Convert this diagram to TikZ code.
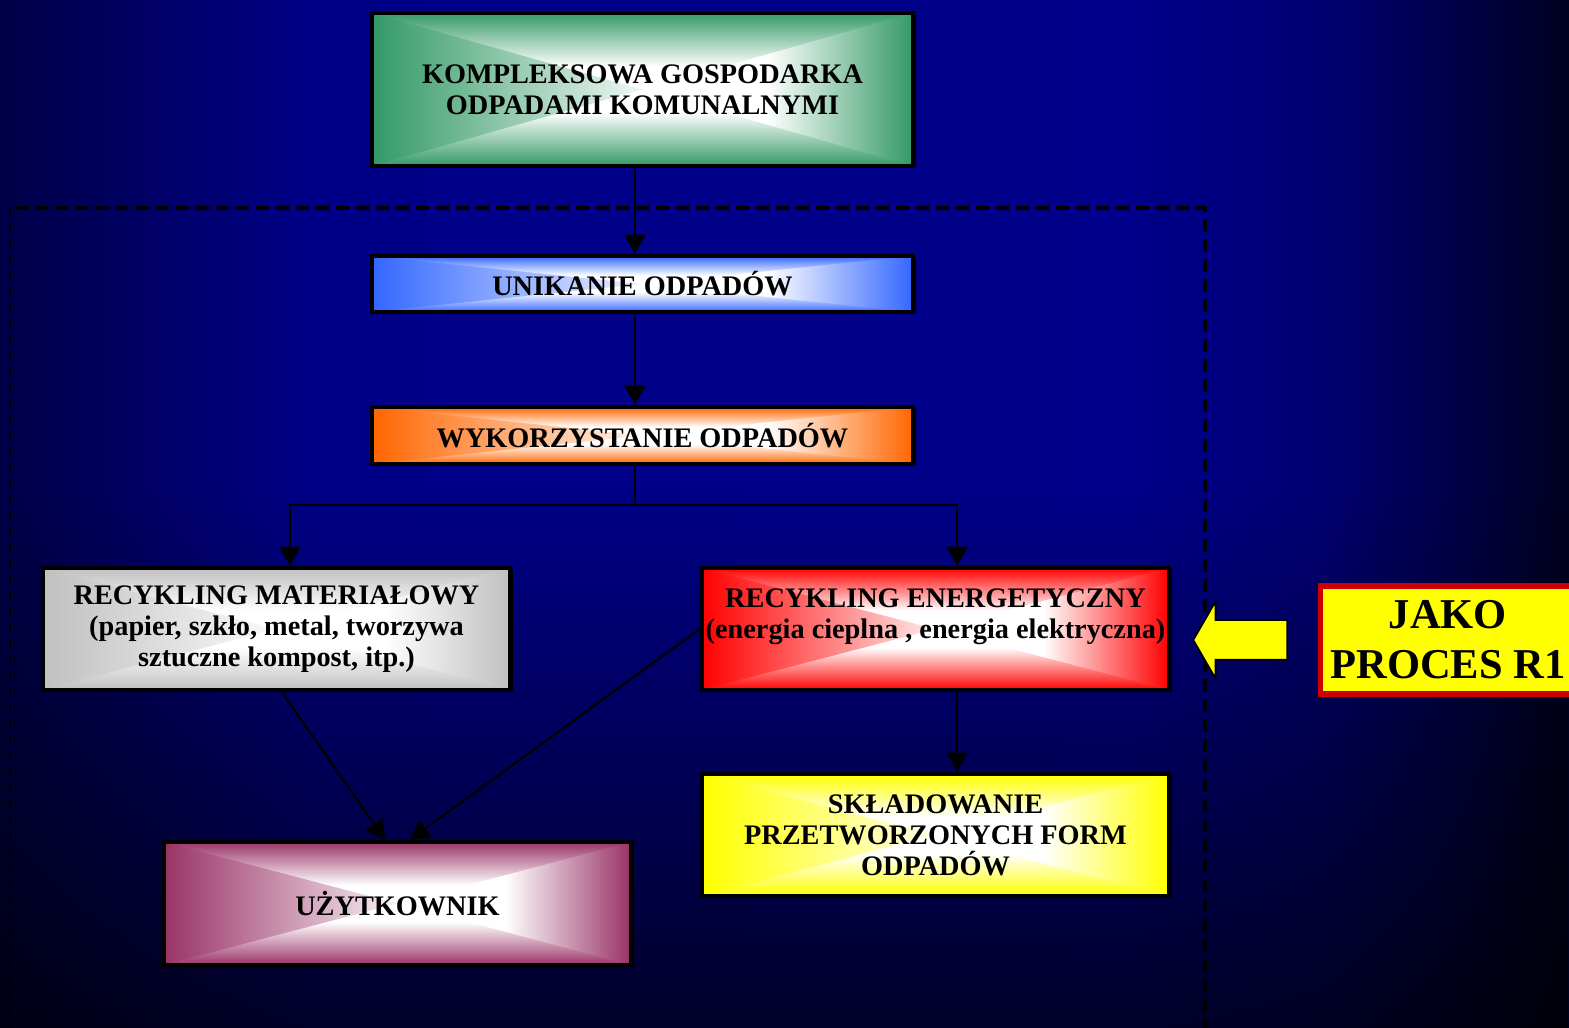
\documentclass[tikz,border=0pt]{standalone}
\usepackage{fontspec}
\setmainfont{Liberation Serif}
\usetikzlibrary{arrows.meta,shapes.arrows,shadows,fadings,positioning}
\definecolor{box_green}{RGB}{51,153,102}
\definecolor{box_blue}{RGB}{51,102,255}
\definecolor{box_orange}{RGB}{255,102,0}
\definecolor{box_gray}{RGB}{192,192,192}
\definecolor{box_red}{RGB}{255,0,0}
\definecolor{box_yellow}{RGB}{255,255,0}
\definecolor{box_mauve}{RGB}{153,51,102}
\definecolor{frame_red}{RGB}{204,0,0}
% background: blue band darkening to the sides
\pgfdeclarehorizontalshading{bgband}{100bp}{%
  rgb(0bp)=(0,0,0.28); rgb(25bp)=(0,0,0.28); rgb(35bp)=(0,0,0.53); rgb(61bp)=(0,0,0.54);
  rgb(67bp)=(0,0,0.45); rgb(71bp)=(0,0,0.30); rgb(75bp)=(0,0,0.12); rgb(100bp)=(0,0,0.12)}
\tikzfading[name=fade down, top color=transparent!100, bottom color=transparent!30]
% edge-to-centre glow of the boxes
\newcommand\glowshadings[1]{%
  \pgfdeclarehorizontalshading{glowh-#1}{100bp}{%
    color(0bp)=(#1); color(25bp)=(#1); color(52bp)=(white); color(100bp)=(white)}%
  \pgfdeclarehorizontalshading{glowv-#1}{100bp}{%
    color(0bp)=(#1); color(25bp)=(#1); color(60bp)=(white); color(100bp)=(white)}}
\glowshadings{box_green}
\glowshadings{box_blue}
\glowshadings{box_orange}
\glowshadings{box_gray}
\glowshadings{box_red}
\glowshadings{box_yellow}
\glowshadings{box_mauve}

\begin{document}
\begin{tikzpicture}[font=\fontsize{8.05}{8.8}\selectfont\bfseries,
    box/.style={draw=black, fill=white, line width=1.3pt, align=center, inner sep=0pt,
                drop shadow={shadow xshift=0.025cm, shadow yshift=-0.025cm, fill=black, opacity=1}},
    wide/.style={box, minimum width=5.41cm},
    half/.style={box, minimum width=4.67cm, minimum height=1.22cm},
    glow/.style={path picture={
      \shade[shading=glowh-#1, shading angle=0]
        (path picture bounding box.north west) rectangle (path picture bounding box.south);
      \shade[shading=glowh-#1, shading angle=180]
        (path picture bounding box.north) rectangle (path picture bounding box.south east);
      \shade[shading=glowv-#1, shading angle=-90]
        (path picture bounding box.north west) -- (path picture bounding box.north east)
        -- (path picture bounding box.center) -- cycle;
      \shade[shading=glowv-#1, shading angle=90]
        (path picture bounding box.south west) -- (path picture bounding box.south east)
        -- (path picture bounding box.center) -- cycle;}},
    link/.style={-{Triangle[width=0.21cm,length=0.19cm]}, line width=0.6pt}]
  \useasboundingbox (0,0) rectangle (15.69,10.28);
  % background
  \shade[shading=bgband] (0,0) rectangle (15.69,10.28);
  \fill[black, path fading=fade down] (0,0) rectangle (15.69,5.4);
  \draw[line width=1.1pt, dash pattern=on 0.13cm off 0.07cm]
    (0.16,8.20) -- (12.05,8.20) -- (12.05,0);
  \draw[line width=0.35pt, dash pattern=on 0.08cm off 0.08cm] (0.10,8.20) -- (0.10,0);

  % boxes
  \node[wide, minimum height=1.53cm, glow=box_green] (kgo) at (6.425,9.385)
    {KOMPLEKSOWA GOSPODARKA\\ODPADAMI KOMUNALNYMI};
  \node[wide, minimum height=0.56cm, glow=box_blue] (uni) at (6.425,7.44)
    {UNIKANIE ODPADÓW};
  \node[wide, minimum height=0.57cm, glow=box_orange] (wyk) at (6.425,5.925)
    {WYKORZYSTANIE ODPADÓW};
  \node[half, glow=box_gray] (mat) at (2.765,3.99)
    {RECYKLING MATERIAŁOWY\\(papier, szkło, metal, tworzywa\\sztuczne kompost, itp.)};
  \node[half, glow=box_red] (ene) at (9.355,3.99)
    {RECYKLING ENERGETYCZNY\\(energia cieplna , energia elektryczna)\\ \mbox{}};
  \node[half, glow=box_yellow] (skl) at (9.355,1.93)
    {SKŁADOWANIE\\PRZETWORZONYCH FORM\\ODPADÓW};
  \node[half, minimum height=1.23cm, glow=box_mauve] (uzy) at (3.975,1.245)
    {UŻYTKOWNIK};
  \node[draw=frame_red, line width=1.7pt, fill=box_yellow, align=center, inner sep=0pt,
        minimum width=2.55cm, minimum height=1.08cm,
        font=\fontsize{12.1}{14.2}\selectfont\bfseries] (r1) at (14.48,3.88)
    {JAKO\\PROCES R1};
  \node[single arrow, shape border rotate=180, fill=box_yellow, draw=black, line width=0.5pt,
        minimum height=0.94cm, text height=0.38cm, text depth=0pt, inner sep=0pt,
        single arrow head extend=0.185cm, single arrow tip angle=120] (hint) at (12.46,3.88) {};

  % connectors
  \draw[link] ([xshift=-0.075cm]kgo.south) -- ([xshift=-0.075cm]uni.north);
  \draw[link] ([xshift=-0.075cm]uni.south) -- ([xshift=-0.075cm]wyk.north);
  \coordinate (split) at ([xshift=-0.075cm,yshift=-0.39cm]wyk.south);
  \draw[line width=0.6pt] ([xshift=-0.075cm]wyk.south) -- (split);
  \draw[link] (split) -| ([xshift=0.135cm]mat.north);
  \draw[link] (split) -| ([xshift=0.215cm]ene.north);
  \draw[link] ([xshift=0.055cm]mat.south) -- ([xshift=-0.125cm]uzy.north);
  \draw[link] (ene.west) -- ([xshift=0.125cm]uzy.north);
  \draw[link] ([xshift=0.215cm]ene.south) -- ([xshift=0.215cm]skl.north);
\end{tikzpicture}
\end{document}
